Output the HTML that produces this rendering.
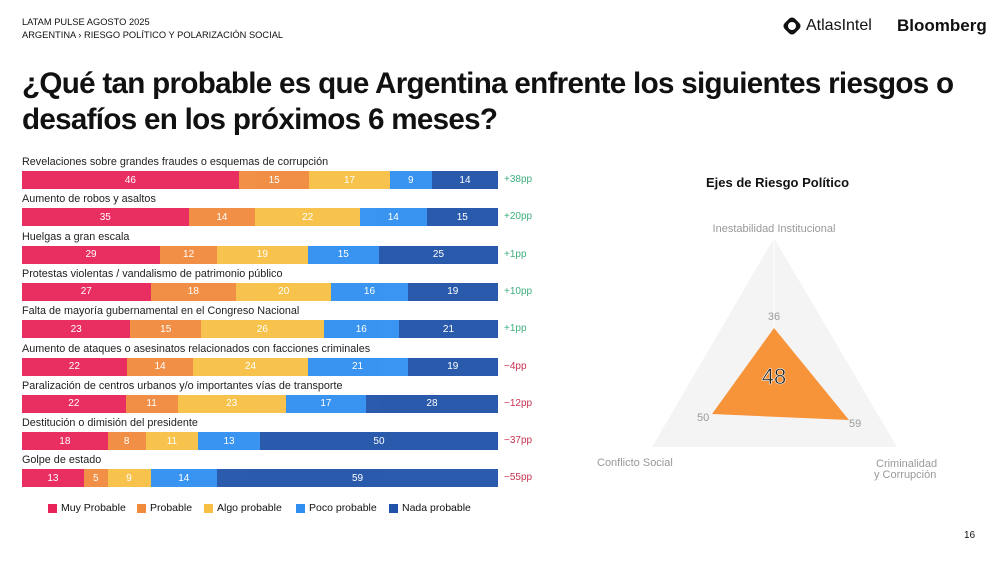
<!DOCTYPE html>
<html><head><meta charset="utf-8"><style>
body{margin:0;width:1000px;height:566px;background:#fff;font-family:"Liberation Sans",sans-serif;position:relative;overflow:hidden;color:#111}
.a{position:absolute}
.lbl{position:absolute;left:22px;font-size:10.8px;color:#222;white-space:nowrap}
.bar{position:absolute;left:22px;width:476px;height:18px;display:flex}
.bar div{height:100%;color:#fff;font-size:10px;display:flex;align-items:center;justify-content:center;opacity:.95}
.pp{position:absolute;left:504px;font-size:10px}
.c1{background:#e8235a}.c2{background:#f08a3c}.c3{background:#f7c044}.c4{background:#2f8ef0}.c5{background:#1f52a8}
.leg{position:absolute;top:502px;font-size:10.5px;display:flex;align-items:center}
.leg i{display:inline-block;width:9px;height:9px;margin-right:4px}
</style></head><body>
<div class="a" style="left:22px;top:16px;font-size:9.3px;line-height:13px">LATAM PULSE AGOSTO 2025<br>ARGENTINA › RIESGO POLÍTICO Y POLARIZACIÓN SOCIAL</div>
<div class="a" style="left:783px;top:17px;width:18px;height:18px;border-radius:5px;background:#111;transform:rotate(45deg) scale(.8)"></div>
<div class="a" style="left:788px;top:22px;width:8px;height:8px;border-radius:50%;background:#fff"></div>
<div class="a" style="left:806px;top:17px;font-size:16px;color:#111">AtlasIntel</div>
<div class="a" style="left:897px;top:16px;font-size:17px;font-weight:bold;color:#111">Bloomberg</div>
<div class="a" style="left:22px;top:66px;font-size:29.6px;font-weight:bold;line-height:36px;letter-spacing:-0.7px;width:975px">¿Qué tan probable es que Argentina enfrente los siguientes riesgos o desafíos en los próximos 6 meses?</div>
<div id="bars"></div>
<div class="leg" style="left:48px"><i class="c1"></i>Muy Probable</div>
<div class="leg" style="left:137px"><i class="c2"></i>Probable</div>
<div class="leg" style="left:204px"><i class="c3"></i>Algo probable</div>
<div class="leg" style="left:296px"><i class="c4"></i>Poco probable</div>
<div class="leg" style="left:389px"><i class="c5"></i>Nada probable</div>
<div class="a" style="left:706px;top:175px;font-size:13px;font-weight:bold">Ejes de Riesgo Político</div>
<svg class="a" style="left:0;top:0" width="1000" height="566">
<polygon points="774,238 652,447 897,447" fill="#f4f4f4"/>
<line x1="774" y1="238" x2="774" y2="376" stroke="#fff"/>
<polygon points="774,328 712,414 849,420" fill="#f7943a"/>
<text x="774" y="384" font-size="22" text-anchor="middle" fill="#111" stroke="#fff" stroke-width="0.6" font-family="Liberation Sans">48</text>
<g font-family="Liberation Sans" font-size="11" fill="#999">
<text x="774" y="232" text-anchor="middle">Inestabilidad Institucional</text>
<text x="774" y="320" text-anchor="middle">36</text>
<text x="697" y="421">50</text>
<text x="849" y="427">59</text>
<text x="597" y="466">Conflicto Social</text>
<text x="876" y="467">Criminalidad</text>
<text x="874" y="478">y Corrupción</text>
</g>
</svg>
<div class="a" style="left:964px;top:530px;font-size:10px">16</div>
<script>
var d=[["Revelaciones sobre grandes fraudes o esquemas de corrupción",[46,15,17,9,14],"+38pp"],
["Aumento de robos y asaltos",[35,14,22,14,15],"+20pp"],
["Huelgas a gran escala",[29,12,19,15,25],"+1pp"],
["Protestas violentas / vandalismo de patrimonio público",[27,18,20,16,19],"+10pp"],
["Falta de mayoría gubernamental en el Congreso Nacional",[23,15,26,16,21],"+1pp"],
["Aumento de ataques o asesinatos relacionados con facciones criminales",[22,14,24,21,19],"-4pp"],
["Paralización de centros urbanos y/o importantes vías de transporte",[22,11,23,17,28],"-12pp"],
["Destitución o dimisión del presidente",[18,8,11,13,50],"-37pp"],
["Golpe de estado",[13,5,9,14,59],"-55pp"]];
var h="";d.forEach(function(r,i){var y=171+i*37.3;var s=r[1].reduce(function(a,b){return a+b},0);
h+='<div class="lbl" style="top:'+(y-15)+'px">'+r[0]+'</div><div class="bar" style="top:'+y+'px">';
r[1].forEach(function(v,j){h+='<div class="c'+(j+1)+'" style="width:'+(v/s*100)+'%">'+v+'</div>'});
var neg=r[2][0]=="-";h+='</div><div class="pp" style="top:'+(y+3)+'px;color:'+(neg?'#c8334f':'#3fae7e')+'">'+(neg?'−'+r[2].slice(1):r[2])+'</div>';});
document.getElementById("bars").innerHTML=h;
</script>
</body></html>
